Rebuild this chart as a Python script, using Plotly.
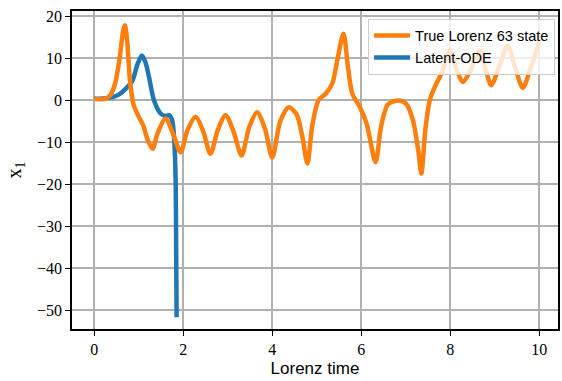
import plotly.graph_objects as go

# True Lorenz 63 state (x1)
t_true = [0.0, 0.2, 0.35, 0.47, 0.57, 0.65, 0.69, 0.74, 0.8, 0.88, 1.0, 1.1, 1.2, 1.31,
          1.42, 1.6, 1.77, 1.94, 2.1, 2.28, 2.45, 2.61, 2.78, 2.95, 3.13, 3.31, 3.48,
          3.66, 3.84, 4.0, 4.18, 4.37, 4.55, 4.68, 4.79, 4.9, 5.04, 5.2, 5.35, 5.47,
          5.6, 5.7, 5.8, 5.97, 6.12, 6.32, 6.45, 6.6, 6.83, 7.01, 7.16, 7.28, 7.35,
          7.44, 7.54, 7.65, 7.8, 7.99, 8.15, 8.28, 8.45, 8.66, 8.8, 8.92, 9.1, 9.29,
          9.45, 9.63, 9.8, 10.0]
x1_true = [0.3, 0.2, 1.0, 4.0, 10.0, 16.5, 17.8, 14.0, 5.0, -1.0, -4.0, -6.0, -9.5, -11.6,
           -8.0, -4.4, -8.0, -12.4, -7.0, -4.0, -7.5, -12.8, -7.0, -3.6, -7.5, -13.2, -6.5,
           -2.9, -7.0, -13.7, -5.0, -1.7, -3.5, -9.0, -15.1, -6.0, 0.0, 1.5, 4.0, 10.0,
           15.8, 8.0, 1.5, -1.7, -5.6, -14.8, -6.0, -1.0, -0.1, -0.9, -4.8, -12.0, -17.5,
           -7.0, 0.0, 3.1, 6.3, 11.8, 7.0, 4.3, 7.0, 11.8, 7.0, 3.5, 8.0, 13.0,
           8.0, 2.9, 7.5, 13.8]

# Latent-ODE prediction
t_ode = [0.0, 0.2, 0.41, 0.55, 0.67, 0.86, 0.97, 1.07, 1.15, 1.23, 1.34, 1.49, 1.6,
         1.68, 1.75, 1.8, 1.83, 1.84, 1.85]
x1_ode = [0.3, 0.4, 0.7, 1.3, 2.3, 4.7, 8.5, 10.6, 9.0, 5.5, 0.0, -3.2, -3.8,
          -3.6, -4.8, -10.0, -20.0, -35.0, -51.7]

x_ticks = [0, 2, 4, 6, 8, 10]
y_ticks = [20, 10, 0, -10, -20, -30, -40, -50]
y_ticktext = ["20", "10", "0", "\u221210", "\u221220", "\u221230", "\u221240", "\u221250"]

fig = go.Figure()
fig.add_trace(go.Scatter(x=t_ode, y=x1_ode, mode="lines", name="Latent-ODE",
                         line=dict(color="#1f77b4", width=4.5, shape="spline", smoothing=0.8)))
fig.add_trace(go.Scatter(x=t_true, y=x1_true, mode="lines", name="True Lorenz 63 state",
                         line=dict(color="#ff7f0e", width=4.5, shape="spline", smoothing=0.8)))

serif = "Liberation Serif"
sans = "Liberation Sans"
fig.update_layout(
    width=562, height=381,
    margin=dict(l=72, r=2, t=11, b=52),
    plot_bgcolor="white", paper_bgcolor="white",
    showlegend=True,
    legend=dict(traceorder="reversed", x=0.994, y=0.976, xanchor="right", yanchor="top",
                bgcolor="rgba(255,255,255,0.8)", bordercolor="#cccccc", borderwidth=1,
                font=dict(family=sans, size=14.5, color="black"), tracegroupgap=0,
                itemwidth=36),
    xaxis=dict(range=[-0.5, 10.42], tickvals=x_ticks, ticktext=[str(v) for v in x_ticks],
               showgrid=True, gridcolor="#b0b0b0", gridwidth=1.5,
               showline=True, linecolor="black", linewidth=1.5, mirror=True,
               ticks="outside", ticklen=5, tickwidth=1.2, tickcolor="black",
               tickfont=dict(family=serif, size=16, color="black"), zeroline=False,
               title=dict(text="Lorenz time", font=dict(family=sans, size=17, color="black"),
                          standoff=5)),
    yaxis=dict(range=[-54.5, 21.2], tickvals=y_ticks, ticktext=y_ticktext,
               showgrid=True, gridcolor="#b0b0b0", gridwidth=1.5,
               showline=True, linecolor="black", linewidth=1.5, mirror=True,
               ticks="outside", ticklen=5, tickwidth=1.2, tickcolor="black",
               tickfont=dict(family=serif, size=16, color="black"), zeroline=False,
               title=dict(text="x<sub>1</sub>", font=dict(family=serif, size=20, color="black"),
                          standoff=10)),
)

fig.write_html("out.html")
